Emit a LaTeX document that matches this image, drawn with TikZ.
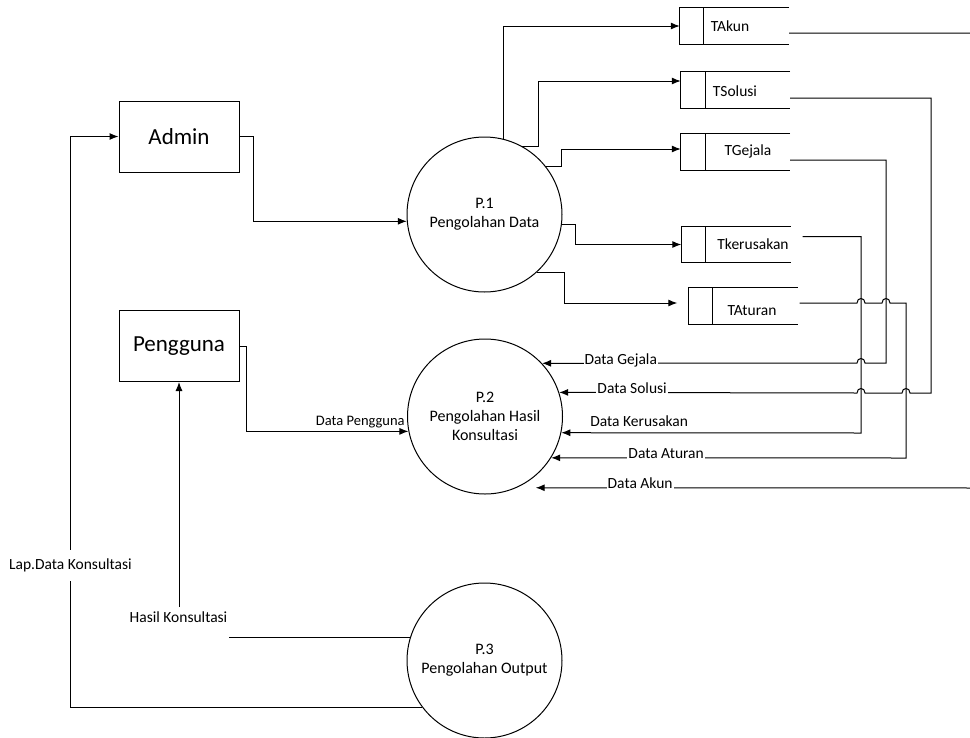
\documentclass[tikz,border=0pt]{standalone}
\usepackage{fontspec}
\setmainfont{Carlito}
\usetikzlibrary{arrows.meta}

\begin{document}
\begin{tikzpicture}[x=1pt, y=-1pt]
    % Define styles
    \tikzstyle{plain}=[line width=1pt]
    \tikzstyle{flow}=[line width=1pt, -{Latex[length=9pt, width=7pt]}]
    \tikzstyle{entity}=[draw, line width=1pt, minimum width=120pt, minimum height=71pt, font=\fontsize{23}{27}\selectfont]
    \tikzstyle{process}=[circle, draw, line width=1pt, minimum size=155pt, inner sep=0pt, align=center, font=\fontsize{16}{19}\selectfont]
    \tikzstyle{store}=[minimum width=109pt, minimum height=36pt, inner sep=0pt]
    \tikzstyle{lbl}=[font=\fontsize{15.5}{18}\selectfont]
    \tikzstyle{cut}=[lbl, fill=white, inner sep=1pt, anchor=base]

    \useasboundingbox (0,0) rectangle (970,737);

    % External entities
    \node[entity] (admin) at (179,136.5) {Admin};
    \node[entity] (pengguna) at (179,346) {Pengguna};

    % Processes
    \node[process] (p1) at (484.5,214.5) {P.1\\Pengolahan Data};
    \node[process] (p2) at (485,416.5) {P.2\\Pengolahan Hasil\\Konsultasi};
    \node[process] (p3) at (484.5,660.5) {P.3\\Pengolahan Output};

    % Data stores: open box with a small key column
    \node[store] (takun) at (734.5,26) {};
    \node[store] (tsolusi) at (735.5,90) {};
    \node[store] (tgejala) at (735.5,152) {};
    \node[store] (tkerusakan) at (736,244.5) {};
    \node[store] (taturan) at (743,306) {};

    \draw[plain] (takun.north east) -- (takun.north west) -- (takun.south west) -- (takun.south east);
    \draw[plain] ([xshift=24pt]takun.north west) -- ([xshift=24pt]takun.south west);
    \draw[plain] (tsolusi.north east) -- (tsolusi.north west) -- (tsolusi.south west) -- (tsolusi.south east);
    \draw[plain] ([xshift=25pt]tsolusi.north west) -- ([xshift=25pt]tsolusi.south west);
    \draw[plain] (tgejala.north east) -- (tgejala.north west) -- (tgejala.south west) -- (tgejala.south east);
    \draw[plain] ([xshift=25pt]tgejala.north west) -- ([xshift=25pt]tgejala.south west);
    \draw[plain] (tkerusakan.north east) -- (tkerusakan.north west) -- (tkerusakan.south west) -- (tkerusakan.south east);
    \draw[plain] ([xshift=24pt]tkerusakan.north west) -- ([xshift=24pt]tkerusakan.south west);
    \draw[plain] (taturan.north east) -- (taturan.north west) -- (taturan.south west) -- (taturan.south east);
    \draw[plain] ([xshift=24pt]taturan.north west) -- ([xshift=24pt]taturan.south west);

    \node[lbl] (takun_txt) at (730,26) {TAkun};
    \node[lbl] (tsolusi_txt) at (735,91) {TSolusi};
    \node[lbl] (tgejala_txt) at (748,151) {TGejala};
    \node[lbl] (tkerusakan_txt) at (753,244) {Tkerusakan};
    \node[lbl] (taturan_txt) at (752,311) {TAturan};

    % Admin -> P.1
    \draw[flow] (admin.east) -- ++(14,0) |- (p1.185);

    % P.1 -> data stores
    \draw[flow] (p1.76) |- (takun.west);
    \draw[flow] (p1.61) -- ++(16,0) |- ([yshift=9pt]tsolusi.west);
    \draw[flow] (p1.38) -- ++(16,0) |- ([yshift=3pt]tgejala.west);
    \draw[flow] (p1.-7) -- ++(14,0) |- (tkerusakan.west);
    \draw[flow] (p1.-48) -- ++(28,0) |- ([xshift=-11pt, yshift=3pt]taturan.west);

    % Pengguna -> P.2
    \draw[flow] (pengguna.east) -- ++(7,0) |- node[pos=1, above left, font=\fontsize{14.5}{17}\selectfont] {Data Pengguna} (p2.191);

    % data stores -> P.2 (with hops over crossing lines)
    \draw[flow] ([yshift=-8pt]tgejala.east) -| (886,363) -- (865,363) .. controls (865,357) and (857,357) .. (857,363)
        -- node[cut, pos=0.75, yshift=-1pt] {Data Gejala} (p2.43);
    \draw[flow] ([yshift=-8pt]tsolusi.east) -| (931,393) -- (910,393) .. controls (910,387) and (902,387) .. (902,393)
        -- (865,393) .. controls (865,387) and (857,387) .. (857,393)
        -- node[cut, pos=0.755, yshift=-1pt] {Data Solusi} (p2.18);
    \draw[flow] ([xshift=12pt, yshift=8pt]tkerusakan.east) -| (861,433)
        -- node[lbl, pos=0.74, above, yshift=2pt] {Data Kerusakan} (p2.-12);
    \draw[flow] ([xshift=2pt, yshift=3pt]taturan.east) -- (857,303) .. controls (857,297) and (865,297) .. (865,303)
        -- (882,303) .. controls (882,297) and (890,297) .. (890,303) -| (906,458)
        -- node[cut, pos=0.676, yshift=-1pt] {Data Aturan} (p2.-32);
    \draw[flow] ([yshift=-7pt]takun.east) -| (980,488)
        -- node[cut, pos=0.765, yshift=-1pt] {Data Akun} ([xshift=19pt]p2.-66);

    % P.3 -> Admin
    \draw[flow] (p3.217) -| node[lbl, pos=0.624, fill=white, inner xsep=1pt, inner ysep=9pt] {Lap.Data Konsultasi} ([xshift=-48pt]admin.west) -- (admin.west);

    % P.3 -> Pengguna
    \coordinate (hk_start) at (179,607);
    \coordinate (hk_end) at (229,638);
    \node[lbl] (hk_lbl) at (178.5,617) {Hasil Konsultasi};
    \draw[plain] (p3.163) -- (hk_end |- p3.163);
    \draw[flow] (hk_start) -- (pengguna.south);
\end{tikzpicture}
\end{document}
